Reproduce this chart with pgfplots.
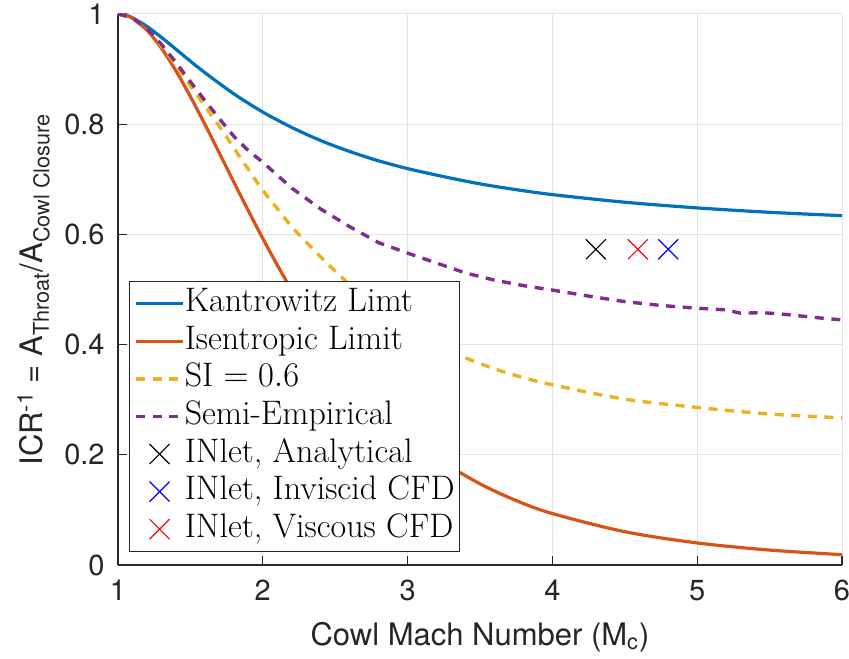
\documentclass[border=0pt]{standalone}
\usepackage{fontspec}
\usepackage{pgfplots}
\pgfplotsset{compat=1.18}
\newfontfamily\heros{TeX Gyre Heros}

\definecolor{mblue}{rgb}{0,0.447,0.741}
\definecolor{mred}{rgb}{0.85,0.325,0.098}
\definecolor{myel}{rgb}{0.929,0.694,0.125}
\definecolor{mpur}{rgb}{0.494,0.184,0.556}
\definecolor{axcol}{rgb}{0.15,0.15,0.15}

\pgfplotsset{
  mark legend/.style={legend image code/.code={%
    \draw[##1, mark repeat=2, mark phase=2] plot coordinates {(0pt,0pt) (11.75pt,0pt) (23.5pt,0pt)};}},
}

% Kantrowitz and isentropic limits
\pgfplotstableread{
M     kant    isen
1.00  1.0000  1.0000
1.05  0.9981  0.9980
1.10  0.9932  0.9921
1.20  0.9775  0.9705
1.30  0.9575  0.9378
1.40  0.9361  0.8969
1.50  0.9143  0.8502
1.60  0.8935  0.7998
1.70  0.8740  0.7476
1.80  0.8551  0.6949
1.90  0.8380  0.6430
2.00  0.8220  0.5926
2.10  0.8076  0.5444
2.20  0.7941  0.4988
2.30  0.7818  0.4560
2.40  0.7703  0.4161
2.50  0.7600  0.3793
2.60  0.7505  0.3453
2.70  0.7417  0.3142
2.80  0.7335  0.2857
3.00  0.7194  0.2362
3.25  0.7048  0.1863
3.50  0.6917  0.1473
3.75  0.6812  0.1169
4.00  0.6722  0.0933
4.50  0.6584  0.0604
5.00  0.6481  0.0400
5.50  0.6401  0.0271
6.00  0.6340  0.0188
}\limdata

% SI = 0.6
\pgfplotstableread{
M     si
1.00  1.000
1.10  0.992
1.20  0.972
1.30  0.942
1.40  0.907
1.50  0.870
1.60  0.833
1.70  0.796
1.80  0.757
1.90  0.718
2.00  0.680
2.10  0.647
2.20  0.614
2.40  0.559
2.60  0.509
2.80  0.467
3.00  0.431
3.20  0.401
3.40  0.376
3.60  0.356
3.80  0.340
4.00  0.327
4.50  0.301
5.00  0.286
5.50  0.274
6.00  0.267
}\sixdata

% semi-empirical
\pgfplotstableread{
M     se
1.00  1.000
1.10  0.993
1.20  0.973
1.30  0.945
1.40  0.912
1.50  0.877
1.60  0.843
1.70  0.810
1.80  0.778
1.90  0.752
2.00  0.731
2.20  0.684
2.40  0.646
2.60  0.614
2.80  0.585
3.00  0.566
3.20  0.548
3.40  0.530
3.60  0.517
3.80  0.507
4.00  0.499
4.25  0.488
4.50  0.478
4.75  0.471
5.00  0.466
5.20  0.463
5.30  0.457
5.45  0.458
5.60  0.455
5.75  0.451
5.90  0.447
6.00  0.445
}\semiemp

\begin{document}
\begin{tikzpicture}
\useasboundingbox (-59pt,-46.5pt) rectangle (365.5pt,282.5pt);
\begin{axis}[
  at={(0pt,0pt)}, anchor=south west,
  scale only axis, width=362pt, height=275.5pt,
  xmin=1, xmax=6, ymin=0, ymax=1,
  xtick={1,2,3,4,5,6}, ytick={0,0.2,0.4,0.6,0.8,1},
  grid=major, major grid style={color=black!11, line width=0.5pt},
  axis x line*=bottom, axis y line*=left,
  axis line style={axcol, line width=0.6pt, -},
  tick style={axcol, line width=0.6pt},
  tick align=inside, major tick length=4.5pt,
  /pgf/number format/assume math mode=true,
  ticklabel style={font=\heros\fontsize{14.5}{16}\selectfont, text=axcol},
  xticklabel style={inner sep=0pt, anchor=north, yshift=-7.5pt},
  yticklabel style={inner sep=0pt, anchor=east, xshift=-6.5pt},
  label style={font=\heros\fontsize{15.5}{18}\selectfont, text=axcol},
  xlabel={Cowl Mach Number (M\textsubscript{c})},
  xlabel style={at={(axis description cs:0.5,-0.1452)}, anchor=base},
  ylabel={ICR\textsuperscript{-1} = A\textsubscript{Throat}/A\textsubscript{Cowl Closure}},
  ylabel style={at={(axis description cs:-0.1036,0.5)}, anchor=base},
  legend image code/.code={\draw[#1] (0pt,0pt) -- (23.5pt,0pt);},
  legend style={at={(axis description cs:0.0156,0.0241)}, anchor=south west,
    draw=axcol, line width=0.5pt, fill=white,
    font=\fontsize{17}{20}\selectfont,
    inner xsep=2.3pt, inner ysep=3pt, row sep=2.8pt,
    cells={anchor=west},
    nodes={inner xsep=0pt, inner ysep=0pt, text height=12pt, text depth=4pt},
    /tikz/column 2/.style={column sep=2pt}},
]
\addplot[mblue, line width=1.6pt, smooth] table[x=M, y=kant] {\limdata};
\addlegendentry{Kantrowitz Limt}
\addplot[mred, line width=1.6pt, smooth] table[x=M, y=isen] {\limdata};
\addlegendentry{Isentropic Limit}
\addplot[myel, line width=1.7pt, dash pattern=on 4.5pt off 3.8pt, smooth] table[x=M, y=si] {\sixdata};
\addlegendentry{SI $=0.6$}
\addplot[mpur, line width=1.7pt, dash pattern=on 4.5pt off 3.8pt] table[x=M, y=se] {\semiemp};
\addlegendentry{Semi-Empirical}
\addplot[black, only marks, mark=x, mark size=7.07pt, mark options={line width=0.6pt}, mark legend]
  coordinates {(4.30,0.573)};
\addlegendentry{INlet, Analytical}
\addplot[blue, only marks, mark=x, mark size=7.07pt, mark options={line width=0.6pt}, mark legend]
  coordinates {(4.80,0.573)};
\addlegendentry{INlet, Inviscid CFD}
\addplot[red, only marks, mark=x, mark size=7.07pt, mark options={line width=0.6pt}, mark legend]
  coordinates {(4.59,0.573)};
\addlegendentry{INlet, Viscous CFD}
\end{axis}
\end{tikzpicture}
\end{document}
